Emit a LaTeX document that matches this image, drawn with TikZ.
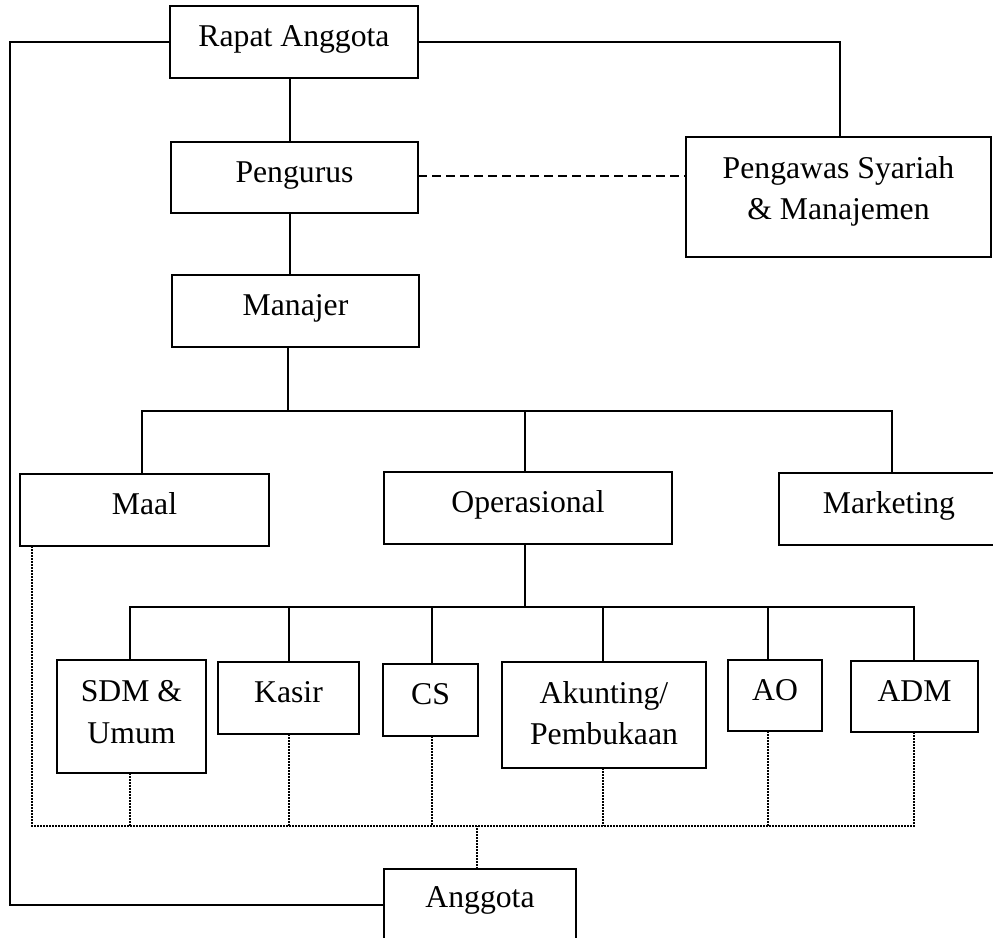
\documentclass[tikz,border=0pt]{standalone}
\usepackage{fontspec}
\setmainfont{Liberation Serif}
\begin{document}
\begin{tikzpicture}[x=1pt,y=-1pt,line width=2pt,
  box/.style={draw,rectangle,inner sep=0pt,outer sep=0pt,line width=2pt},
  lbl/.style={anchor=base,inner sep=0pt,font=\fontsize{31.7}{38}\selectfont},
  dotline/.style={line width=2pt,dash pattern=on 2pt off 1pt},
  dashline/.style={line width=2pt,dash pattern=on 9pt off 5pt}]
\clip (0,0) rectangle (993,937);
\fill[white] (0,0) rectangle (993,937);

% top level
\node[box,minimum width=248pt,minimum height=72pt,label={[lbl,yshift=-40.5pt]north:Rapat Anggota}] (rapat) at (294,42) {};
\node[box,minimum width=247pt,minimum height=71pt,label={[lbl,yshift=-40.5pt]north:Pengurus}] (pengurus) at (294.5,177.5) {};
\node[box,minimum width=247pt,minimum height=72pt,label={[lbl,yshift=-40.5pt]north:Manajer}] (manajer) at (295.5,311) {};
\node[box,minimum width=305pt,minimum height=120pt,
  label={[lbl,yshift=-41pt]north:Pengawas Syariah},
  label={[lbl,yshift=-82pt]north:\& Manajemen}] (pengawas) at (838.5,197) {};

% second level
\node[box,minimum width=249pt,minimum height=72pt,label={[lbl,yshift=-40.5pt]north:Maal}] (maal) at (144.5,510) {};
\node[box,minimum width=288pt,minimum height=72pt,label={[lbl,yshift=-40.5pt]north:Operasional}] (operasional) at (528,508) {};
\node[box,minimum width=220pt,minimum height=72pt,label={[lbl,yshift=-40.5pt]north:Marketing}] (marketing) at (889,509) {};

% third level
\node[box,minimum width=149pt,minimum height=113pt,
  label={[lbl,yshift=-41pt]north:SDM \&},
  label={[lbl,yshift=-83pt]north:Umum}] (sdm) at (131.5,716.5) {};
\node[box,minimum width=141pt,minimum height=72pt,label={[lbl,yshift=-40.5pt]north:Kasir}] (kasir) at (288.5,698) {};
\node[box,minimum width=95pt,minimum height=72pt,label={[lbl,yshift=-40.5pt]north:CS}] (cs) at (430.5,700) {};
\node[box,minimum width=204pt,minimum height=106pt,
  label={[lbl,yshift=-41pt]north:Akunting/},
  label={[lbl,yshift=-82pt]north:Pembukaan}] (akunting) at (604,715) {};
\node[box,minimum width=94pt,minimum height=71pt,label={[lbl,yshift=-40.5pt]north:AO}] (ao) at (775,695.5) {};
\node[box,minimum width=127pt,minimum height=71pt,label={[lbl,yshift=-40.5pt]north:ADM}] (adm) at (914.5,696.5) {};

% bottom
\node[box,minimum width=192pt,minimum height=72pt,label={[lbl,yshift=-38.5pt]north:Anggota}] (anggota) at (480,905) {};

% helper coordinates
\coordinate (leftrail) at (10,500);
\coordinate (barA) at (0,411);
\coordinate (barB) at (0,607);
\coordinate (barC) at (0,826);

% solid connectors
\draw (rapat.west) -| (leftrail) |- (anggota.west);
\draw (rapat.east) -| ([xshift=1.5pt]pengawas.north);
\draw ([xshift=-4pt]rapat.south) -- ([xshift=-4pt]rapat.south |- pengurus.north);
\draw ([xshift=-4.5pt]pengurus.south) -- ([xshift=-4.5pt]pengurus.south |- manajer.north);
\draw[dashline] ([yshift=1.5pt]pengurus.east) -- ([yshift=1.5pt]pengurus.east -| pengawas.west);

\draw ([xshift=-7.5pt]manajer.south) -- ([xshift=-7.5pt]manajer.south |- barA);
\draw ([xshift=-2.5pt]maal.north) |- ([xshift=3pt]marketing.north |- barA) -- ([xshift=3pt]marketing.north);
\draw ([xshift=-3pt]operasional.north) -- ([xshift=-3pt]operasional.north |- barA);

\draw ([xshift=-3pt]operasional.south) -- ([xshift=-3pt]operasional.south |- barB);
\draw ([xshift=-1.5pt]sdm.north) |- ([xshift=-0.5pt]adm.north |- barB) -- ([xshift=-0.5pt]adm.north);
\draw ([xshift=0.5pt]kasir.north) -- ([xshift=0.5pt]kasir.north |- barB);
\draw ([xshift=1.5pt]cs.north) -- ([xshift=1.5pt]cs.north |- barB);
\draw ([xshift=-1pt]akunting.north) -- ([xshift=-1pt]akunting.north |- barB);
\draw ([xshift=-7pt]ao.north) -- ([xshift=-7pt]ao.north |- barB);

% dotted connectors
\draw[dotline] ([xshift=12pt]maal.south west) |- ([xshift=-0.5pt]adm.south |- barC) -- ([xshift=-0.5pt]adm.south);
\draw[dotline] ([xshift=-1.5pt]sdm.south) -- ([xshift=-1.5pt]sdm.south |- barC);
\draw[dotline] ([xshift=0.5pt]kasir.south) -- ([xshift=0.5pt]kasir.south |- barC);
\draw[dotline] ([xshift=1.5pt]cs.south) -- ([xshift=1.5pt]cs.south |- barC);
\draw[dotline] ([xshift=-1pt]akunting.south) -- ([xshift=-1pt]akunting.south |- barC);
\draw[dotline] ([xshift=-7pt]ao.south) -- ([xshift=-7pt]ao.south |- barC);
\draw[dotline] ([xshift=-3pt]anggota.north) -- ([xshift=-3pt]anggota.north |- barC);
\end{tikzpicture}
\end{document}
